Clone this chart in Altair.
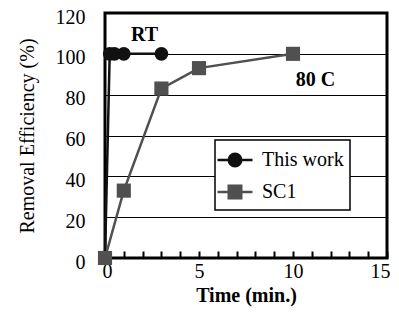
import altair as alt
import pandas as pd

series_names = ["This work", "SC1"]
tw_time = [0, 0.25, 0.5, 1, 3]
tw_eff = [0, 100, 100, 100, 100]
sc_time = [0, 1, 3, 5, 10]
sc_eff = [0, 33, 83, 93, 100]
x_ticks = list(range(0, 16))
y_ticks = [0, 20, 40, 60, 80, 100, 120]
note_text = ["RT", "80 C"]
note_x = [2.1, 11.2]
note_y = [109, 87]

FONT = "Liberation Serif, Times New Roman, serif"
BLACK = "#111111"
GRAY = "#505050"

tw = pd.DataFrame({"time": tw_time, "eff": tw_eff, "series": series_names[0]})
sc = pd.DataFrame({"time": sc_time, "eff": sc_eff, "series": series_names[1]})
both = pd.concat([tw, sc], ignore_index=True)
notes = pd.DataFrame({"text": note_text, "time": note_x, "eff": note_y})

xs = alt.Scale(domain=[0, 15], nice=False, zero=False)
ys = alt.Scale(domain=[0, 120], nice=False)

x_axis = alt.Axis(values=x_ticks, labelExpr="datum.value % 5 == 0 ? datum.label : ''",
                  labelOverlap=False, labelFlush=True, labelFlushOffset=3,
                  domain=False, grid=False, tickSize=7, offset=-7, tickColor="black",
                  tickWidth=2, labelFont=FONT, labelFontSize=20, labelColor="black",
                  labelPadding=3, title="Time (min.)", titleFont=FONT, titleFontSize=20,
                  titleFontWeight="bold", titleColor="black", titlePadding=4)
y_axis = alt.Axis(values=y_ticks, domain=False, ticks=False, grid=True, gridColor="black",
                  gridWidth=1.2, gridOpacity=1, labelFont=FONT, labelFontSize=20,
                  labelColor="black", labelPadding=20, labelOffset=4,
                  title="Removal Efficiency (%)",
                  titleFont=FONT, titleFontSize=20, titleFontWeight="normal",
                  titleColor="black", titlePadding=18, labelOverlap=False)

X = alt.X("time:Q", scale=xs, axis=x_axis)
Y = alt.Y("eff:Q", scale=ys, axis=y_axis)

color_scale = alt.Scale(domain=series_names, range=[BLACK, GRAY])
circle_path = "M-1.4,0H1.4M0.5,0A0.5,0.5,0,1,1,-0.5,0A0.5,0.5,0,1,1,0.5,0Z"
square_path = "M-1.4,0H1.4M-0.5,-0.5H0.5V0.5H-0.5Z"

line_tw = alt.Chart(tw).mark_line(color=BLACK, strokeWidth=2.5).encode(x=X, y=Y)
line_sc = alt.Chart(sc).mark_line(color=GRAY, strokeWidth=2.5).encode(x=X, y=Y)
pts_tw = alt.Chart(tw).mark_point(shape="circle", filled=True, size=190, color=BLACK,
                                  opacity=1).encode(x=X, y=Y)
pts_sc = alt.Chart(sc).mark_point(shape="square", filled=True, size=200, color=GRAY,
                                  opacity=1).encode(x=X, y=Y)

legend = alt.Legend(title=None, orient="none", legendX=110, legendY=127,
                    fillColor="white", strokeColor="black", padding=6,
                    symbolSize=625, symbolStrokeWidth=2.5, symbolOpacity=1,
                    labelFont=FONT, labelFontSize=20, labelColor="black",
                    labelOffset=13, rowPadding=6)
leg_layer = alt.Chart(both).mark_point(filled=True, size=625, opacity=0).encode(
    x=X, y=Y,
    fill=alt.Fill("series:N", scale=color_scale, legend=legend),
    stroke=alt.Stroke("series:N", scale=color_scale, legend=legend),
    shape=alt.Shape("series:N", scale=alt.Scale(domain=series_names,
                                                 range=[circle_path, square_path]),
                    legend=legend),
)

text = alt.Chart(notes).mark_text(font=FONT, fontSize=20, fontWeight="bold",
                                  color="black").encode(x=X, y=Y, text="text:N")

chart = alt.layer(leg_layer, line_tw, line_sc, pts_tw, pts_sc, text).properties(
    width=282, height=245,
    background="white",
    autosize=alt.AutoSizeParams(type="none"),
    padding={"left": 97, "top": 5, "right": 4, "bottom": 57},
).configure(
    font=FONT,
    style={"guide-label": {"font": FONT}, "guide-title": {"font": FONT}},
).configure_view(stroke="black", strokeWidth=3).configure_legend(
    strokeWidth=1.5).configure_axis(labelFont=FONT, titleFont=FONT)

chart.save("out.html", embed_options={"renderer": "svg", "actions": False})
